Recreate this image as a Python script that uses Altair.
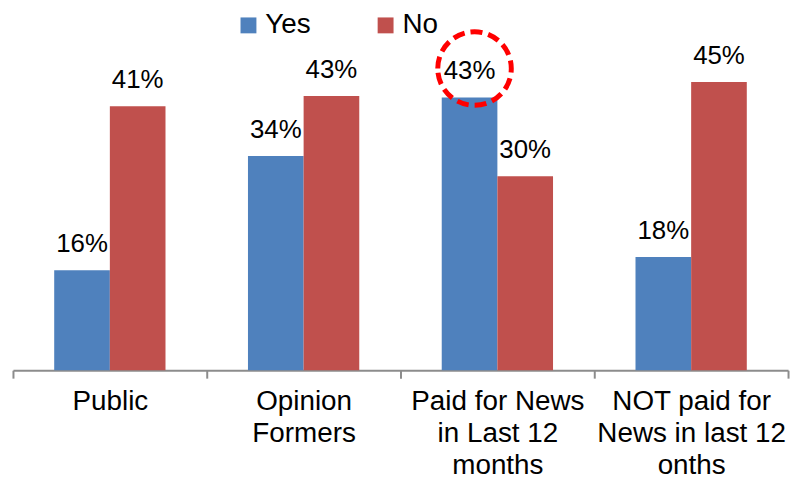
import altair as alt
import pandas as pd

categories = [
    "Public",
    "Opinion\nFormers",
    "Paid for News\nin Last 12\nmonths",
    "NOT paid for\nNews in last 12\nonths",
]
answers = ["Yes", "No"]
yes_values = [15.7, 33.7, 42.9, 17.8]
no_values = [41.5, 43.1, 30.5, 45.3]
yes_labels = ["16%", "34%", "43%", "18%"]
no_labels = ["41%", "43%", "30%", "45%"]
colors = ["#4F81BD", "#C0504D"]
highlight_category = "Paid for News\nin Last 12\nmonths"
highlight_answer = "Yes"

rows = []
for c, y, n, yl, nl in zip(categories, yes_values, no_values, yes_labels, no_labels):
    rows.append({"category": c, "answer": "Yes", "value": y, "label": yl})
    rows.append({"category": c, "answer": "No", "value": n, "label": nl})
df = pd.DataFrame(rows)

FONT = "Liberation Sans"

base = alt.Chart(df).encode(
    x=alt.X(
        "category:N",
        sort=categories,
        title=None,
        scale=alt.Scale(paddingInner=0, paddingOuter=0),
        axis=alt.Axis(
            labelAngle=0,
            labelFont=FONT,
            labelFontSize=28,
            labelColor="#000000",
            labelLineHeight=32,
            labelBaseline="top",
            labelPadding=10,
            labelLimit=400,
            labelExpr="split(datum.label, '\\n')",
            domainColor="#8c8c8c",
            domainWidth=2,
            tickColor="#8c8c8c",
            tickWidth=2,
            tickSize=8,
            tickBand="extent",
            grid=False,
        ),
    ),
    xOffset=alt.XOffset(
        "answer:N",
        sort=answers,
        scale=alt.Scale(paddingInner=0, paddingOuter=0.741),
    ),
    y=alt.Y("value:Q", scale=alt.Scale(domain=[0, 50]), axis=None),
)

bars = base.mark_bar().encode(
    color=alt.Color(
        "answer:N",
        sort=answers,
        scale=alt.Scale(domain=answers, range=colors),
        legend=alt.Legend(
            title=None,
            orient="none",
            legendX=223,
            legendY=-41,
            direction="horizontal",
            symbolType="square",
            symbolSize=256,
            symbolStrokeWidth=0,
            labelFont=FONT,
            labelFontSize=28,
            labelColor="#000000",
            labelOffset=3,
            columnPadding=61,
            padding=0,
        ),
    )
)

labels = base.mark_text(
    font=FONT, fontSize=26, color="#000000", baseline="alphabetic", dy=-18
).encode(text="label:N")

# unit circle path shifted slightly right of the bar centre (annotation ring)
ring_path = "M-0.865,0A1,1,0,1,1,1.135,0A1,1,0,1,1,-0.865,0Z"

circle = base.transform_filter(
    (alt.datum.category == highlight_category) & (alt.datum.answer == highlight_answer)
).mark_point(
    shape=ring_path,
    size=5476,
    filled=False,
    stroke="#FF0000",
    strokeWidth=5,
    strokeDash=[12, 6],
    opacity=1,
    yOffset=-29,
)

chart = (
    alt.layer(bars, labels, circle)
    .properties(
        width=780,
        height=320,
        autosize=alt.AutoSizeParams(type="none"),
        padding={"left": 5, "top": 43, "right": 5, "bottom": 110},
    )
    .configure_view(stroke=None)
)

chart.save("out.html", embed_options={"renderer": "svg", "actions": False})
